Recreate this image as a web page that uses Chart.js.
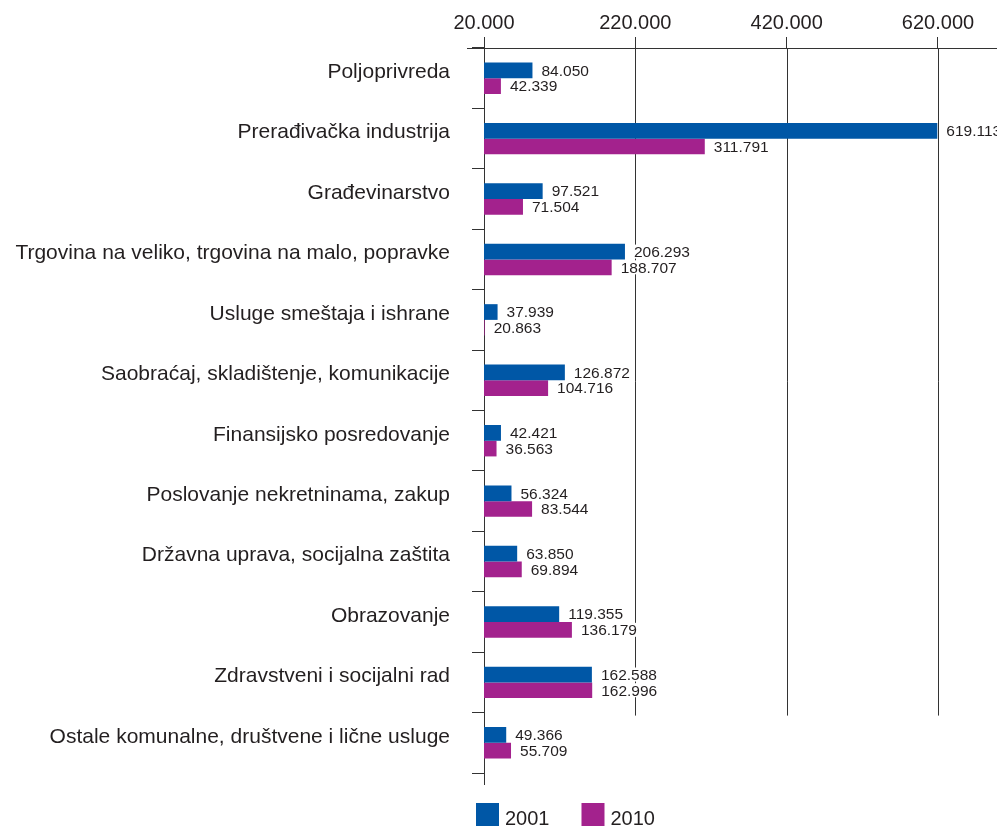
<!DOCTYPE html>
<html>
<head>
<meta charset="utf-8">
<script src="https://cdn.jsdelivr.net/npm/chart.js@4.4.1/dist/chart.umd.min.js"></script>
<style>
  html, body { margin: 0; padding: 0; background: #fff; overflow: hidden; }
  canvas { display: block; }
</style>
</head>
<body>
<canvas id="myChart" width="997" height="826"></canvas>
<script>
var categories = [
  "Poljoprivreda",
  "Prerađivačka industrija",
  "Građevinarstvo",
  "Trgovina na veliko, trgovina na malo, popravke",
  "Usluge smeštaja i ishrane",
  "Saobraćaj, skladištenje, komunikacije",
  "Finansijsko posredovanje",
  "Poslovanje nekretninama, zakup",
  "Državna uprava, socijalna zaštita",
  "Obrazovanje",
  "Zdravstveni i socijalni rad",
  "Ostale komunalne, društvene i lične usluge",
];
var labels = ["2001", "2010"];
var values2001 = [84050, 619113, 97521, 206293, 37939, 126872, 42421, 56324, 63850, 119355, 162588, 49366];
var values2010 = [42339, 311791, 71504, 188707, 20863, 104716, 36563, 83544, 69894, 136179, 162996, 55709];
var xTicks = [20000, 220000, 420000, 620000];
var xMin = 20000;
var xMax = 698000;

var textColor = "#231f20";
var lineColor = "#333333";
var font = "'Liberation Sans', Arial, sans-serif";

function fmt(v) {
  return String(v).replace(/\B(?=(\d{3})+(?!\d))/g, ".");
}

// vertical grid lines stop a bit above the last category
var gridPlugin = {
  id: "gridLines",
  beforeDatasetsDraw: function (chart) {
    var c = chart.ctx;
    var xs = chart.scales.x;
    var ys = chart.scales.y;
    var yEnd = ys.getPixelForValue(categories.length - 1.5) + 3;
    c.save();
    c.strokeStyle = lineColor;
    c.lineWidth = 1;
    for (var i = 1; i < xTicks.length; i++) {
      var x = Math.round(xs.getPixelForValue(xTicks[i])) + 0.5;
      c.beginPath();
      c.moveTo(x, chart.chartArea.top);
      c.lineTo(x, yEnd);
      c.stroke();
    }
    c.restore();
  },
};

var valuePlugin = {
  id: "valueLabels",
  afterDatasetsDraw: function (chart) {
    var c = chart.ctx;
    c.save();
    c.font = "15.5px " + font;
    c.textBaseline = "middle";
    c.textAlign = "left";
    chart.data.datasets.forEach(function (ds, di) {
      var meta = chart.getDatasetMeta(di);
      meta.data.forEach(function (bar, i) {
        var txt = fmt(ds.data[i]);
        var w = c.measureText(txt).width;
        var x = bar.x + 8;
        c.fillStyle = "#ffffff";
        c.fillRect(x - 3, bar.y - 7, w + 6, 14);
        c.fillStyle = textColor;
        c.fillText(txt, x + 1, bar.y + 1);
      });
    });
    c.restore();
  },
};

var extrasPlugin = {
  id: "extras",
  afterDraw: function (chart) {
    var c = chart.ctx;
    var a = chart.chartArea;
    c.save();
    c.strokeStyle = lineColor;
    c.lineWidth = 1;
    c.beginPath();
    c.moveTo(Math.round(a.left) + 0.5, a.bottom);
    c.lineTo(Math.round(a.left) + 0.5, a.bottom + 12);
    c.moveTo(a.left - 17, Math.round(a.top) + 0.5);
    c.lineTo(a.left, Math.round(a.top) + 0.5);
    c.stroke();

    // legend
    c.font = "20px " + font;
    c.textBaseline = "alphabetic";
    var x = a.left - 8;
    chart.data.datasets.forEach(function (ds) {
      c.fillStyle = ds.backgroundColor;
      c.fillRect(x, 803, 23, 23);
      c.fillStyle = textColor;
      c.fillText(ds.label, x + 29, 825);
      x += 23 + 6 + c.measureText(ds.label).width + 32;
    });
    c.restore();
  },
};

var ctx = document.getElementById("myChart");
var myChart = new Chart(ctx, {
  type: "bar",
  data: {
    labels: categories,
    datasets: [
      {
        label: labels[0],
        data: values2001,
        backgroundColor: "#0057a6",
        categoryPercentage: 0.52,
        barPercentage: 1.0,
      },
      {
        label: labels[1],
        data: values2010,
        backgroundColor: "#a3228d",
        categoryPercentage: 0.52,
        barPercentage: 1.0,
      },
    ],
  },
  options: {
    indexAxis: "y",
    responsive: false,
    animation: false,
    layout: {
      padding: { top: 0, right: 0, bottom: 53, left: 0 },
    },
    scales: {
      x: {
        type: "linear",
        position: "top",
        min: xMin,
        max: xMax,
        afterBuildTicks: function (axis) {
          axis.ticks = xTicks.map(function (v) {
            return { value: v };
          });
        },
        afterFit: function (axis) {
          axis.height = 48;
        },
        ticks: {
          font: { size: 20, family: font },
          color: textColor,
          padding: 2,
          maxRotation: 0,
          autoSkip: false,
          callback: function (v) {
            return fmt(v);
          },
        },
        grid: {
          drawOnChartArea: false,
          drawTicks: true,
          tickLength: 11,
          color: lineColor,
        },
        border: { display: true, color: lineColor, width: 1 },
      },
      y: {
        afterFit: function (axis) {
          axis.width = 484;
        },
        ticks: {
          font: { size: 21, family: font },
          color: textColor,
          padding: 22,
          labelOffset: -6,
          autoSkip: false,
        },
        grid: {
          drawOnChartArea: false,
          drawTicks: true,
          tickLength: 12,
          offset: true,
          color: lineColor,
        },
        border: { display: true, color: lineColor, width: 1 },
      },
    },
    plugins: {
      legend: { display: false },
      tooltip: { enabled: false },
    },
  },
  plugins: [gridPlugin, valuePlugin, extrasPlugin],
});
</script>
</body>
</html>
